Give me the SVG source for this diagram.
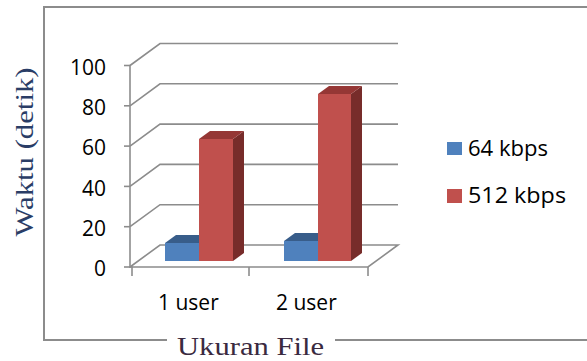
<svg xmlns="http://www.w3.org/2000/svg" width="587" height="361" viewBox="0 0 587 361">
<style>
.frame{stroke:#8c8c8c;stroke-width:2;fill:none}
.grid{stroke:#8c8c8c;stroke-width:1.6;fill:none}
.lbl{font-family:"Open Sans","Liberation Sans",Arial,sans-serif;font-size:21px;fill:#000}
.ttl{font-family:"Liberation Serif","Times New Roman",serif;font-size:26px}
.bf{fill:#4f81bd}.bt{fill:#385d8a}
.rf{fill:#c0504d}.rt{fill:#953735}.rs{fill:#772c2a}
</style>
<rect width="587" height="361" fill="#fff"/>
<g id="frame">
<polyline class="frame" points="167,340 44,340 44,7 587,7"/>
<line class="frame" x1="335" y1="340" x2="587" y2="340"/>
</g>
<g id="axes">
<g class="grid">
<polyline points="130,267 368,267 398,245 160,245 130,267"/>
<polyline points="130,226.7 160,204.7 398,204.7"/>
<polyline points="130,186.4 160,164.4 398,164.4"/>
<polyline points="130,146.1 160,124.1 398,124.1"/>
<polyline points="130,105.8 160,83.8 398,83.8"/>
<polyline points="130,65.5 160,43.5 398,43.5"/>
<line x1="130" y1="65" x2="130" y2="268"/>
<line x1="124" y1="267" x2="130" y2="267"/>
<line x1="124" y1="226.7" x2="130" y2="226.7"/>
<line x1="124" y1="186.4" x2="130" y2="186.4"/>
<line x1="124" y1="146.1" x2="130" y2="146.1"/>
<line x1="124" y1="105.8" x2="130" y2="105.8"/>
<line x1="124" y1="65.5" x2="130" y2="65.5"/>
<line x1="132" y1="267" x2="132" y2="276"/>
<line x1="249" y1="267" x2="249" y2="276"/>
<line x1="368" y1="267" x2="368" y2="276"/>
</g>
<g class="lbl" text-anchor="end">
<text x="106" y="276">0</text>
<text x="106" y="236">20</text>
<text x="106" y="196">40</text>
<text x="106" y="155">60</text>
<text x="106" y="115">80</text>
<text x="106" y="75">100</text>
</g>
<text class="lbl" x="158" y="310" font-size="22">1 user</text>
<text class="lbl" x="276" y="310" font-size="22">2 user</text>
</g>
<g id="bar-1user-64">
<rect class="bf" x="165" y="243" width="34" height="18"/>
<polygon class="bt" points="165,243 176,235 210,235 199,243"/>
</g>
<g id="bar-1user-512">
<polygon class="rs" points="233,139 244,131 244,253 233,261"/>
<polygon class="rt" points="199,139 210,131 244,131 233,139"/>
<rect class="rf" x="199" y="139" width="34" height="122"/>
</g>
<g id="bar-2user-64">
<rect class="bf" x="284" y="241" width="34" height="20"/>
<polygon class="bt" points="284,241 295,233 329,233 318,241"/>
</g>
<g id="bar-2user-512">
<polygon class="rs" points="351,94 362,86 362,253 351,261"/>
<polygon class="rt" points="318,94 329,86 362,86 351,94"/>
<rect class="rf" x="318" y="94" width="33" height="167"/>
</g>
<g id="legend">
<rect class="bf" x="447" y="142" width="15" height="13"/>
<text class="lbl" x="468" y="156" textLength="80" lengthAdjust="spacingAndGlyphs">64 kbps</text>
<rect class="rf" x="447" y="189" width="15" height="14"/>
<text class="lbl" x="468" y="203" textLength="98" lengthAdjust="spacingAndGlyphs">512 kbps</text>
</g>
<g id="titles">
<text class="ttl" fill="#2a3d66" text-anchor="middle" transform="translate(33,152) rotate(-90)" textLength="169" lengthAdjust="spacingAndGlyphs">Waktu (detik)</text>
<text class="ttl" fill="#3a2a40" x="177" y="355" textLength="147" lengthAdjust="spacingAndGlyphs">Ukuran File</text>
</g>
</svg>
